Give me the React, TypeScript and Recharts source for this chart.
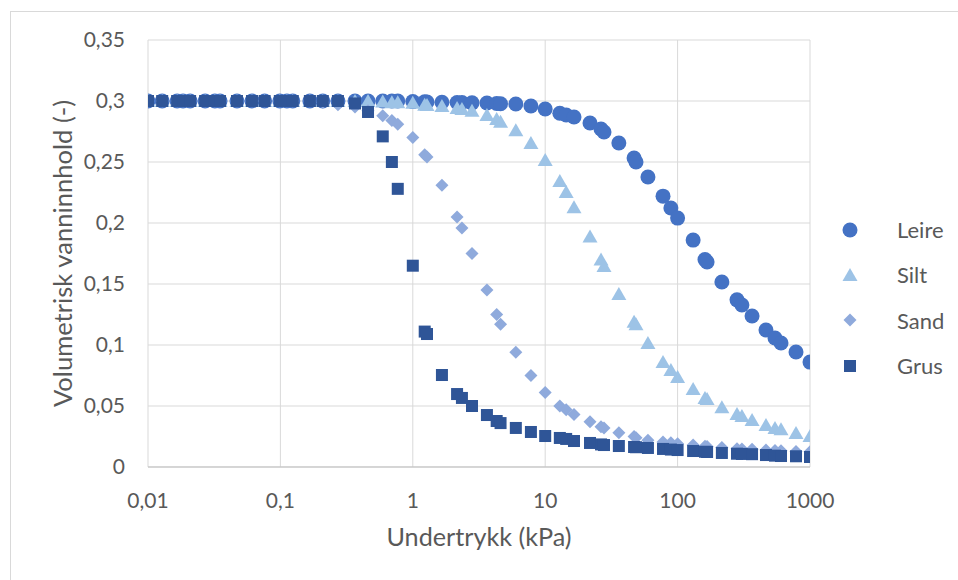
import {
  ScatterChart,
  Scatter,
  XAxis,
  YAxis,
  CartesianGrid,
} from 'recharts'

// suction (kPa), shared by all four soils
const suction = [
  0.01, 0.0128, 0.0166, 0.0184, 0.0208, 0.027, 0.032, 0.035, 0.047, 0.061,
  0.076, 0.099, 0.112, 0.124, 0.167, 0.209, 0.272, 0.366, 0.459, 0.593,
  0.695, 0.77, 1.0, 1.23, 1.28, 1.66, 2.16, 2.35, 2.8, 3.63,
  4.3, 4.6, 6.0, 7.8, 10, 12.9, 14.4, 16.5, 21.8, 26.4,
  27.8, 36, 46.9, 48.5, 59.7, 77.6, 89, 100, 131, 161,
  167, 216, 281, 306, 365, 465, 544, 604, 784, 1000,
]

const leire = [
  0.3, 0.3, 0.3, 0.3, 0.3, 0.3, 0.3, 0.3, 0.3, 0.3,
  0.3, 0.3, 0.3, 0.3, 0.3, 0.3, 0.3, 0.3, 0.3, 0.3,
  0.3, 0.3, 0.2995, 0.2993, 0.2992, 0.299, 0.2988, 0.2987, 0.2985, 0.2984,
  0.298, 0.2978, 0.2975, 0.2959, 0.2934, 0.29, 0.2885, 0.2869, 0.282, 0.277,
  0.2746, 0.2656, 0.2533, 0.25, 0.2377, 0.222, 0.2123, 0.204, 0.186, 0.17,
  0.168, 0.1516, 0.137, 0.1328, 0.1238, 0.1123, 0.1057, 0.1016, 0.0943, 0.086,
]

const silt = [
  0.3, 0.3, 0.3, 0.3, 0.3, 0.3, 0.3, 0.3, 0.3, 0.3,
  0.3, 0.3, 0.3, 0.3, 0.3, 0.3, 0.3, 0.3, 0.3, 0.2995,
  0.299, 0.299, 0.2985, 0.297, 0.2967, 0.296, 0.2943, 0.2935, 0.292, 0.2885,
  0.2852, 0.283, 0.276, 0.2656, 0.2516, 0.2344, 0.2254, 0.213, 0.189, 0.17,
  0.1648, 0.1418, 0.119, 0.117, 0.1016, 0.086, 0.0795, 0.0738, 0.064, 0.0565,
  0.0557, 0.049, 0.0434, 0.0418, 0.0385, 0.0344, 0.032, 0.031, 0.0279, 0.0254,
]

const sand = [
  0.3, 0.3, 0.3, 0.3, 0.3, 0.3, 0.3, 0.3, 0.3, 0.3,
  0.3, 0.3, 0.3, 0.3, 0.3, 0.299, 0.297, 0.295, 0.292, 0.288,
  0.284, 0.281, 0.27, 0.256, 0.254, 0.231, 0.205, 0.196, 0.175, 0.145,
  0.125, 0.117, 0.094, 0.075, 0.061, 0.05, 0.047, 0.043, 0.037, 0.033,
  0.032, 0.028, 0.025, 0.024, 0.022, 0.0205, 0.0198, 0.019, 0.018, 0.017,
  0.0168, 0.016, 0.015, 0.0148, 0.0145, 0.014, 0.0135, 0.0133, 0.0128, 0.0124,
]

const grus = [
  0.3, 0.3, 0.3, 0.3, 0.3, 0.3, 0.3, 0.3, 0.3, 0.3,
  0.3, 0.3, 0.3, 0.3, 0.3, 0.3, 0.3, 0.298, 0.291, 0.271,
  0.25, 0.228, 0.165, 0.111, 0.109, 0.0754, 0.0598, 0.0566, 0.05, 0.0426,
  0.0377, 0.036, 0.032, 0.0287, 0.0254, 0.0238, 0.023, 0.0213, 0.0197, 0.0185,
  0.018, 0.0172, 0.0164, 0.0162, 0.0156, 0.0148, 0.0143, 0.0139, 0.0131, 0.0125,
  0.0123, 0.0115, 0.0109, 0.0107, 0.0105, 0.0098, 0.0093, 0.009, 0.0088, 0.0082,
]

const xTicks = [0.01, 0.1, 1, 10, 100, 1000]
const yTicks = [0, 0.05, 0.1, 0.15, 0.2, 0.25, 0.3, 0.35]

const FONT = 'Lato, sans-serif'
const TEXT = '#595959'

const series = [
  { name: 'Leire', values: leire, color: '#4472C4', shape: 'circle' },
  { name: 'Silt', values: silt, color: '#9DC3E6', shape: 'triangle' },
  { name: 'Sand', values: sand, color: '#8FAADC', shape: 'diamond' },
  { name: 'Grus', values: grus, color: '#2F5597', shape: 'square' },
]

const comma = (v: number) => (v === 0 ? '0' : String(v).replace('.', ','))

function Marker({ cx, cy, shape, color }: { cx: number; cy: number; shape: string; color: string }) {
  if (cx == null || cy == null) return null
  switch (shape) {
    case 'circle':
      return <circle cx={cx} cy={cy} r={7.5} fill={color} />
    case 'triangle':
      return <path d={`M${cx},${cy - 7} L${cx + 7.5},${cy + 6} L${cx - 7.5},${cy + 6} Z`} fill={color} />
    case 'diamond':
      return <path d={`M${cx},${cy - 6.5} L${cx + 6.5},${cy} L${cx},${cy + 6.5} L${cx - 6.5},${cy} Z`} fill={color} />
    default:
      return <rect x={cx - 6} y={cy - 6} width={12} height={12} fill={color} />
  }
}

export default function App() {
  return (
    <div
      style={{
        position: 'absolute',
        left: 0,
        top: 0,
        width: 958,
        height: 580,
        overflow: 'hidden',
        background: '#fff',
        fontFamily: FONT,
      }}
    >
      <div
        style={{
          position: 'absolute',
          left: 10,
          top: 11,
          width: 970,
          height: 600,
          border: '1px solid #d9d9d9',
        }}
      />
      <ScatterChart width={958} height={580} margin={{ top: 40, right: 148, bottom: 0, left: 0 }}>
        <CartesianGrid stroke="#d9d9d9" strokeWidth={1} />
        <XAxis
          type="number"
          dataKey="x"
          scale="log"
          domain={[0.01, 1000]}
          allowDataOverflow
          ticks={xTicks}
          tickFormatter={comma}
          height={113}
          axisLine={{ stroke: '#bfbfbf' }}
          tickLine={false}
          tickSize={0}
          tickMargin={26}
          tick={{ fill: TEXT, fontSize: 21, fontFamily: FONT }}
          label={{
            value: 'Undertrykk (kPa)',
            position: 'insideBottom',
            offset: 34,
            fill: TEXT,
            fontSize: 25.2,
            fontFamily: FONT,
          }}
        />
        <YAxis
          type="number"
          dataKey="y"
          domain={[0, 0.35]}
          ticks={yTicks}
          tickFormatter={comma}
          width={148}
          axisLine={false}
          tickLine={false}
          tickSize={0}
          tickMargin={23}
          tick={{ fill: TEXT, fontSize: 21, fontFamily: FONT }}
          label={{
            value: 'Volumetrisk vanninnhold (-)',
            angle: -90,
            position: 'insideLeft',
            offset: 63,
            fill: TEXT,
            fontSize: 25.6,
            fontFamily: FONT,
            style: { textAnchor: 'middle' },
          }}
        />
        {series.map((s) => (
          <Scatter
            key={s.name}
            name={s.name}
            data={suction.map((x, i) => ({ x, y: s.values[i] }))}
            fill={s.color}
            isAnimationActive={false}
            shape={(p: any) => <Marker cx={p.cx} cy={p.cy} shape={s.shape} color={s.color} />}
          />
        ))}
      </ScatterChart>
      <div style={{ position: 'absolute', left: 840, top: 207 }}>
        {series.map((s) => (
          <div
            key={s.name}
            style={{ display: 'flex', alignItems: 'center', height: 45.3, color: TEXT, fontSize: 22 }}
          >
            <svg width={20} height={20} style={{ marginRight: 37 }}>
              <Marker cx={10} cy={10} shape={s.shape} color={s.color} />
            </svg>
            <span>{s.name}</span>
          </div>
        ))}
      </div>
    </div>
  )
}
